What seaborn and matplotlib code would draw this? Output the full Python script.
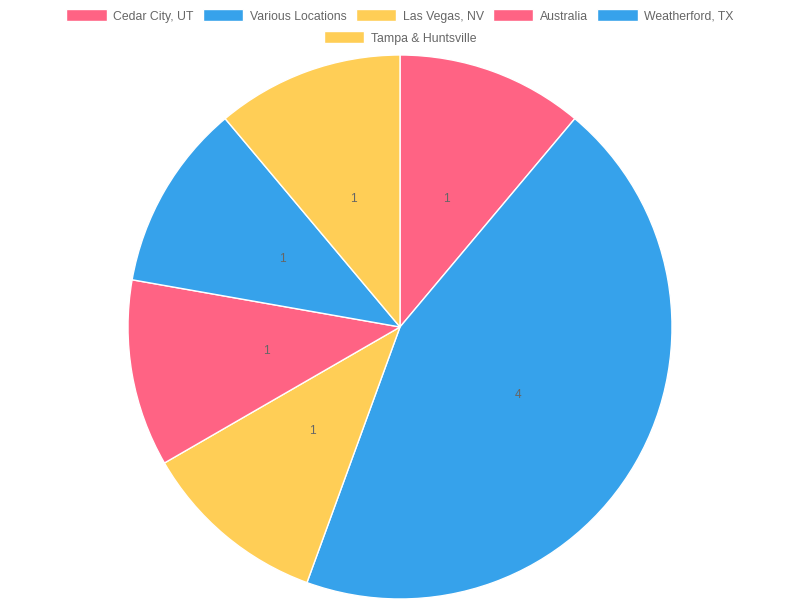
import matplotlib
matplotlib.use("Agg")
import matplotlib.pyplot as plt
import matplotlib.patches as mpatches
import seaborn as sns

labels = ["Cedar City, UT", "Various Locations", "Las Vegas, NV", "Australia", "Weatherford, TX", "Tampa & Huntsville"]
values = [1, 4, 1, 1, 1, 1]
colors = ["#FF6384", "#36A2EB", "#FFCE56", "#FF6384", "#36A2EB", "#FFCE56"]

sns.set_theme(style="white")
plt.rcParams["font.family"] = ["Liberation Sans", "DejaVu Sans"]

fig = plt.figure(figsize=(8, 6), dpi=100)
ax = fig.add_axes([128 / 800, 1 - 599 / 600, 544 / 800, 544 / 600])
pal = sns.color_palette(colors)
total = sum(values)

wedges, texts, autotexts = ax.pie(
    values, colors=pal, startangle=90, counterclock=False,
    wedgeprops=dict(edgecolor="white", linewidth=1),
    autopct=lambda p: f"{round(p * total / 100)}", pctdistance=0.5,
    textprops=dict(color="#666666", fontsize=8.6),
)
ax.set_aspect("equal")
ax.set_xlim(-1, 1)
ax.set_ylim(-1, 1)
ax.axis("off")

handles = [mpatches.Patch(facecolor=c, edgecolor="white", linewidth=1) for c in colors]
common = dict(frameon=False, loc="center", fontsize=8.8, handlelength=3.3, handleheight=1.1,
              handletextpad=0.55, columnspacing=0.75, borderpad=0, labelcolor="#666666")
fig.legend(handles[:5], labels[:5], ncol=5, bbox_to_anchor=(0.5, 1 - 16 / 600), **common)
fig.legend(handles[5:], labels[5:], ncol=1, bbox_to_anchor=(0.5, 1 - 38 / 600), **common)

fig.savefig("out.png", dpi=100)
